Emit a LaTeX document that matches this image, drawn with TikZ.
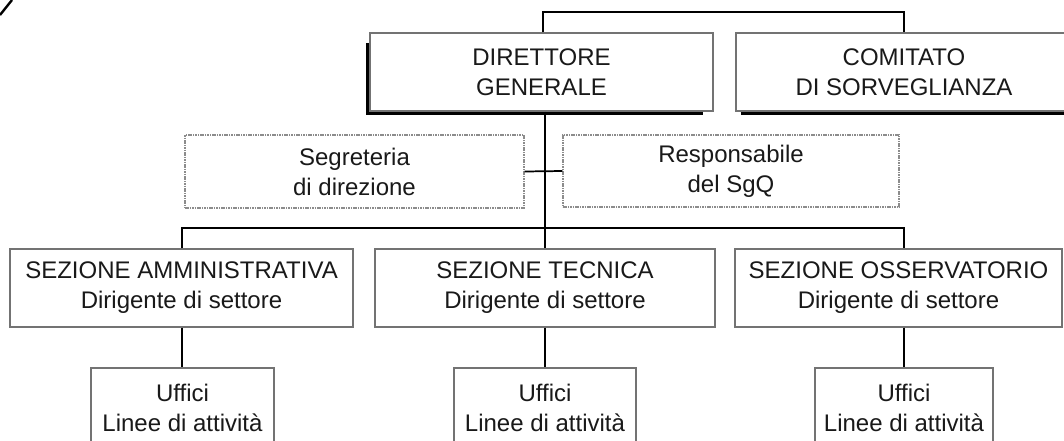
\documentclass[tikz,border=0pt]{standalone}
\usepackage{fontspec}
\setmainfont{Liberation Sans}
\begin{document}
\begin{tikzpicture}[x=0.75pt,y=-0.75pt,
  box/.style={draw=black!55, line width=1.1pt, inner sep=0pt, align=center,
    font=\fontsize{18}{22.5}\selectfont, text=black!90},
  staffbox/.style={box, draw=black!45, line width=0.8pt, dash pattern=on 1.2pt off 0.6pt},
  conn/.style={draw=black, line width=1.3pt},
  shadowline/.style={draw=black, line width=2.2pt}]
\useasboundingbox (0,0) rectangle (1064,440);
\fill[white] (0,0) rectangle (1064,440);
\clip (0,0) rectangle (1064,440);

% column coordinates
\coordinate (c1) at (182,0);
\coordinate (c2) at (545,0);
\coordinate (c3) at (904,0);
\coordinate (topbus) at (0,12);
\coordinate (bus) at (0,228);

% top row
\node[box, minimum width={343*0.75pt}, minimum height={78*0.75pt}] (dg) at (541.5,72) {DIRETTORE\\GENERALE};
\node[box, minimum width={336*0.75pt}, minimum height={78*0.75pt}] (cs) at (904,72) {COMITATO\\DI SORVEGLIANZA};
\draw[shadowline] ([xshift=-1pt,yshift=-8pt]dg.north west) -- ([xshift=-1pt,yshift=-1pt]dg.south west) -- ([xshift=-8pt,yshift=-1pt]dg.south east);
\draw[shadowline] ([xshift=4pt,yshift=-1pt]cs.south west) -- ([yshift=-1pt]cs.south east);

% staff row
\node[staffbox, minimum width={339*0.75pt}, minimum height={73*0.75pt}] (seg) at (354.5,171.5) {Segreteria\\di direzione};
\node[staffbox, minimum width={336*0.75pt}, minimum height={72*0.75pt}] (resp) at (731,171) {Responsabile\\del SgQ};

% sections
\node[box, minimum width={343*0.75pt}, minimum height={78*0.75pt}] (amm) at (181.5,288) {SEZIONE AMMINISTRATIVA\\Dirigente di settore};
\node[box, minimum width={340*0.75pt}, minimum height={78*0.75pt}] (tec) at (545,288) {SEZIONE TECNICA\\Dirigente di settore};
\node[box, minimum width={327*0.75pt}, minimum height={78*0.75pt}] (osv) at (898.5,288) {SEZIONE OSSERVATORIO\\Dirigente di settore};

% offices
\node[box, minimum width={183*0.75pt}, minimum height={80*0.75pt}] (uf1) at (182.5,408) {Uffici\\Linee di attività};
\node[box, minimum width={182*0.75pt}, minimum height={80*0.75pt}] (uf2) at (545,408) {Uffici\\Linee di attività};
\node[box, minimum width={178*0.75pt}, minimum height={80*0.75pt}] (uf3) at (904,408) {Uffici\\Linee di attività};

% connectors
\draw[conn] (dg.north -| 543,0) -- (topbus -| 543,0) -- (topbus -| c3) -- (cs.north -| c3);
\draw[conn] (dg.south -| c2) -- (tec.north -| c2);
\draw[conn] (seg.east) -- (resp.west);
\draw[conn] (amm.north -| c1) -- (bus -| c1) -- (bus -| c3) -- (osv.north -| c3);
\draw[conn] (amm.south -| c1) -- (uf1.north -| c1);
\draw[conn] (tec.south -| c2) -- (uf2.north -| c2);
\draw[conn] (osv.south -| c3) -- (uf3.north -| c3);

% pen stroke at top left
\draw[black, line width=1.8pt] (0,15) -- (12,0);
\end{tikzpicture}
\end{document}
